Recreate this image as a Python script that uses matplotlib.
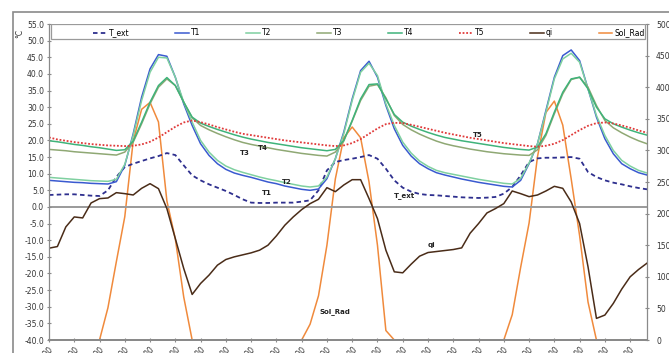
import numpy as np
import matplotlib.pyplot as plt
from matplotlib.patches import Rectangle

# hourly values over three days
hours = np.arange(72)

t_ext = [3.6, 3.7, 3.8, 3.8, 3.6, 3.4, 3.3, 5.0, 9.0, 12.0, 13.0, 13.8, 14.6, 15.3, 16.2, 15.6, 12.5, 9.5, 8.0, 6.8, 5.8, 4.8, 3.6, 2.3,
         1.3, 1.2, 1.2, 1.3, 1.3, 1.3, 1.6, 2.0, 5.0, 11.0, 13.5, 14.1, 14.5, 15.0, 15.6, 14.5, 11.5, 8.0, 5.8, 4.6, 3.9, 3.6, 3.5, 3.3,
         3.1, 2.9, 2.8, 2.7, 2.8, 3.0, 4.0, 6.0, 9.5, 13.5, 14.6, 14.8, 14.8, 14.9, 15.0, 14.5, 10.5, 9.0, 8.0, 7.3, 6.8, 6.2, 5.7, 5.3]

t1 = [8.0, 7.8, 7.6, 7.4, 7.3, 7.1, 7.0, 6.9, 7.6, 12.5, 22.0, 33.0, 41.5, 45.8, 45.3, 39.0, 31.0, 24.5, 19.0, 15.5, 13.0, 11.3, 10.2, 9.5,
      8.9, 8.2, 7.5, 7.0, 6.3, 5.8, 5.3, 5.0, 5.4, 8.5, 14.5, 22.5, 32.5, 41.0, 43.8, 39.0, 30.5, 23.5, 18.5, 15.3, 13.0, 11.5, 10.3, 9.6,
      9.0, 8.4, 7.9, 7.4, 7.0, 6.6, 6.2, 6.0, 8.0, 13.0, 19.0, 29.0, 39.0, 45.5, 47.2, 44.0, 35.5, 27.0, 20.5, 16.0, 13.0, 11.5, 10.3, 9.6]

t2 = [8.9, 8.7, 8.5, 8.3, 8.1, 7.9, 7.8, 7.7, 8.3, 12.8, 21.5, 32.0, 40.5, 45.0, 44.8, 39.0, 31.5, 25.5, 20.0, 16.5, 14.0, 12.3, 11.2, 10.4,
      9.7, 9.0, 8.4, 7.9, 7.3, 6.8, 6.3, 6.0, 6.3, 9.0, 14.5, 22.0, 32.0, 40.5, 43.2, 39.5, 31.0, 24.5, 19.5, 16.2, 13.8, 12.2, 11.0, 10.3,
      9.8, 9.3, 8.8, 8.3, 7.9, 7.5, 7.1, 6.9, 8.6, 13.2, 19.0, 28.5, 38.5, 44.5, 46.2, 43.5, 35.5, 27.5, 21.5, 17.0, 14.0, 12.3, 11.0, 10.2]

t3 = [17.3, 17.1, 16.9, 16.6, 16.4, 16.2, 16.0, 15.8, 15.6, 16.5, 19.5, 25.0, 31.0, 36.0, 38.5, 36.5, 31.5, 26.8, 24.5, 23.2, 22.1, 21.1, 20.2, 19.4,
      18.8, 18.3, 17.8, 17.3, 16.9, 16.5, 16.1, 15.8, 15.5, 15.3, 16.5, 19.8, 25.8, 32.0, 36.3, 36.8, 32.8, 27.5, 24.8, 23.2, 21.9, 20.8, 19.8, 19.0,
      18.4, 17.9, 17.4, 17.0, 16.6, 16.3, 16.0, 15.8, 15.6, 15.5, 17.2, 21.5, 28.0, 34.0, 38.3, 39.0, 36.0, 30.5, 26.0, 23.8, 22.3, 21.0, 19.9, 19.0]

t4 = [19.9, 19.6, 19.2, 18.8, 18.5, 18.1, 17.8, 17.4, 17.0, 17.2, 19.8, 25.5, 31.5, 36.5, 38.9, 36.5, 31.5, 27.0, 25.2, 24.2, 23.3, 22.5, 21.7, 21.0,
      20.4, 19.9, 19.4, 19.0, 18.6, 18.2, 17.8, 17.5, 17.2, 16.9, 17.3, 20.0, 26.0, 32.5, 36.8, 37.0, 32.5, 27.8, 25.5, 24.3, 23.3, 22.4, 21.6, 20.9,
      20.4, 19.9, 19.5, 19.1, 18.7, 18.3, 17.9, 17.6, 17.3, 17.1, 18.0, 22.0, 28.5, 34.5, 38.5, 39.0, 35.5, 30.0, 26.5, 25.0, 24.0, 23.1, 22.3, 21.6]

t5 = [20.9, 20.3, 19.9, 19.5, 19.2, 18.9, 18.7, 18.5, 18.4, 18.3, 18.4, 18.8, 19.6, 20.9, 22.5, 24.1, 25.4, 26.0, 25.5, 24.8, 24.0, 23.3, 22.6, 22.0,
      21.6, 21.2, 20.8, 20.4, 20.0, 19.7, 19.4, 19.1, 18.8, 18.5, 18.3, 18.5, 19.2, 20.4, 22.0, 23.6, 24.9, 25.3, 25.2, 24.7, 24.1, 23.5, 22.9, 22.3,
      21.8, 21.3, 20.8, 20.4, 20.0, 19.6, 19.2, 18.9, 18.6, 18.3, 18.1, 18.4, 19.0, 20.1, 21.6, 23.1, 24.4, 25.2, 25.4, 25.1, 24.5, 23.8, 23.0, 22.3]

qi = [-12.4, -11.9, -6.0, -3.0, -3.3, 1.2, 2.5, 2.7, 4.3, 4.0, 3.6, 5.6, 7.0, 5.5, -0.5, -9.5, -18.5, -26.3, -23.0, -20.5, -17.5, -15.8, -15.0, -14.4,
      -13.8, -13.0, -11.5, -8.7, -5.5, -3.0, -0.8, 1.0, 2.3, 5.8, 4.6, 6.6, 8.2, 8.2, 2.5, -3.5, -13.0, -19.5, -19.8, -17.2, -14.8, -13.7, -13.4, -13.1,
      -12.8, -12.3, -7.9, -5.0, -1.8, -0.5, 1.0, 4.8, 4.0, 3.1, 3.6, 4.8, 6.2, 5.6, 1.5, -5.0, -18.0, -33.5, -32.5, -29.0, -24.7, -21.0, -18.8, -16.9]

sol_rad = [0, 0, 0, 0, 0, 0, 0, 51, 124, 195, 315, 365, 376, 345, 220, 160, 68, 0, 0, 0, 0, 0, 0, 0,
           0, 0, 0, 0, 0, 0, 0, 25, 70, 150, 255, 320, 337, 320, 250, 150, 15, 0, 0, 0, 0, 0, 0, 0,
           0, 0, 0, 0, 0, 0, 0, 40, 115, 185, 290, 360, 378, 340, 255, 165, 60, 0, 0, 0, 0, 0, 0, 0]

tick_hours = np.arange(0, 72, 3)
tick_labels = ['%d:00' % (h % 24) for h in tick_hours]

fig = plt.figure(figsize=(6.69, 3.53), dpi=100)
ax = fig.add_axes([0.0732, 0.0368, 0.8939, 0.8952])
ax2 = ax.twinx()

# solar radiation behind the temperatures, on the right scale
ax2.plot(hours, sol_rad, color='#f08a3c', lw=1.1)
ax2.set_ylim(0, 500)
ax2.set_yticks(np.arange(0, 501, 50))

ax.set_zorder(ax2.get_zorder() + 1)
ax.patch.set_visible(False)

ax.axhline(0, color='#9a9a9a', lw=1.4, zorder=1)
ax.plot(hours, t_ext, color='#2e2f8e', lw=1.3, ls=(0, (2.5, 1.8)), label='T_ext')
ax.plot(hours, t1, color='#3a5ad0', lw=1.1, label='T1')
ax.plot(hours, t2, color='#7fd0a0', lw=1.1, label='T2')
ax.plot(hours, t3, color='#8fa874', lw=1.1, label='T3')
ax.plot(hours, t4, color='#3fb37a', lw=1.1, label='T4')
ax.plot(hours, t5, color='#e03a3a', lw=1.3, ls=(0, (1, 1)), label='T5')
ax.plot(hours, qi, color='#4a2c18', lw=1.1, label='qi')
sol_handle, = ax.plot([], [], color='#f08a3c', lw=1.1, label='Sol_Rad')

ax.set_xlim(0, 71)
ax.set_ylim(-40, 55)
ax.set_yticks(np.arange(-40, 56, 5))
ax.set_yticklabels(['%.1f' % v for v in np.arange(-40, 56, 5)])
ax.set_xticks(tick_hours)
ax.set_xticklabels(tick_labels, rotation=45, ha='right', va='top', rotation_mode='anchor')

for a in (ax, ax2):
    a.spines['top'].set_visible(False)
    for side in ('left', 'right', 'bottom'):
        a.spines[side].set_color('#8a8a8a')
        a.spines[side].set_linewidth(0.9)
    a.spines['bottom'].set_linewidth(1.4)
    a.tick_params(labelsize=5.5, labelcolor='#333333', color='#8a8a8a',
                  length=3, width=0.8, direction='inout', pad=2)
ax2.tick_params(axis='y', pad=5)
ax.spines['right'].set_visible(False)
ax2.spines['left'].set_visible(False)

# legend box across the top of the plot area
ax.add_patch(Rectangle((0.004, 0.952), 0.992, 0.047, transform=ax.transAxes,
                       facecolor='white', edgecolor='#9a9a9a', lw=0.9, zorder=5))
leg = ax.legend(ncol=8, mode='expand', loc='lower left',
                bbox_to_anchor=(0.07, 0.952, 0.93, 0.047), borderaxespad=0,
                frameon=False, fontsize=5.5, handlelength=1.8, handletextpad=0.3,
                borderpad=0.25)
leg.set_zorder(6)

# curve labels
notes = [('T4', 25.4, 17.7), ('T3', 23.2, 16.2), ('T2', 28.2, 7.5), ('T1', 25.9, 4.2),
         ('T_ext', 42.2, 3.3), ('T5', 50.9, 21.6), ('qi', 45.4, -11.4), ('Sol_Rad', 33.9, -31.5)]
for txt, x, y in notes:
    ax.text(x, y, txt, fontsize=5, fontweight='bold', color='#222222',
            ha='center', va='center', zorder=7)

fig.text(20 / 669, 1 - 33 / 353, '°C', rotation=90, fontsize=5.5, color='#333333',
         ha='center', va='center')

# outer chart frame
fig.patches.append(Rectangle((13 / 669, -0.1), 2, 1.1 - 12 / 353, transform=fig.transFigure,
                             facecolor='none', edgecolor='#8a8a8a', lw=1.2))

fig.savefig('out.png', dpi=100)
